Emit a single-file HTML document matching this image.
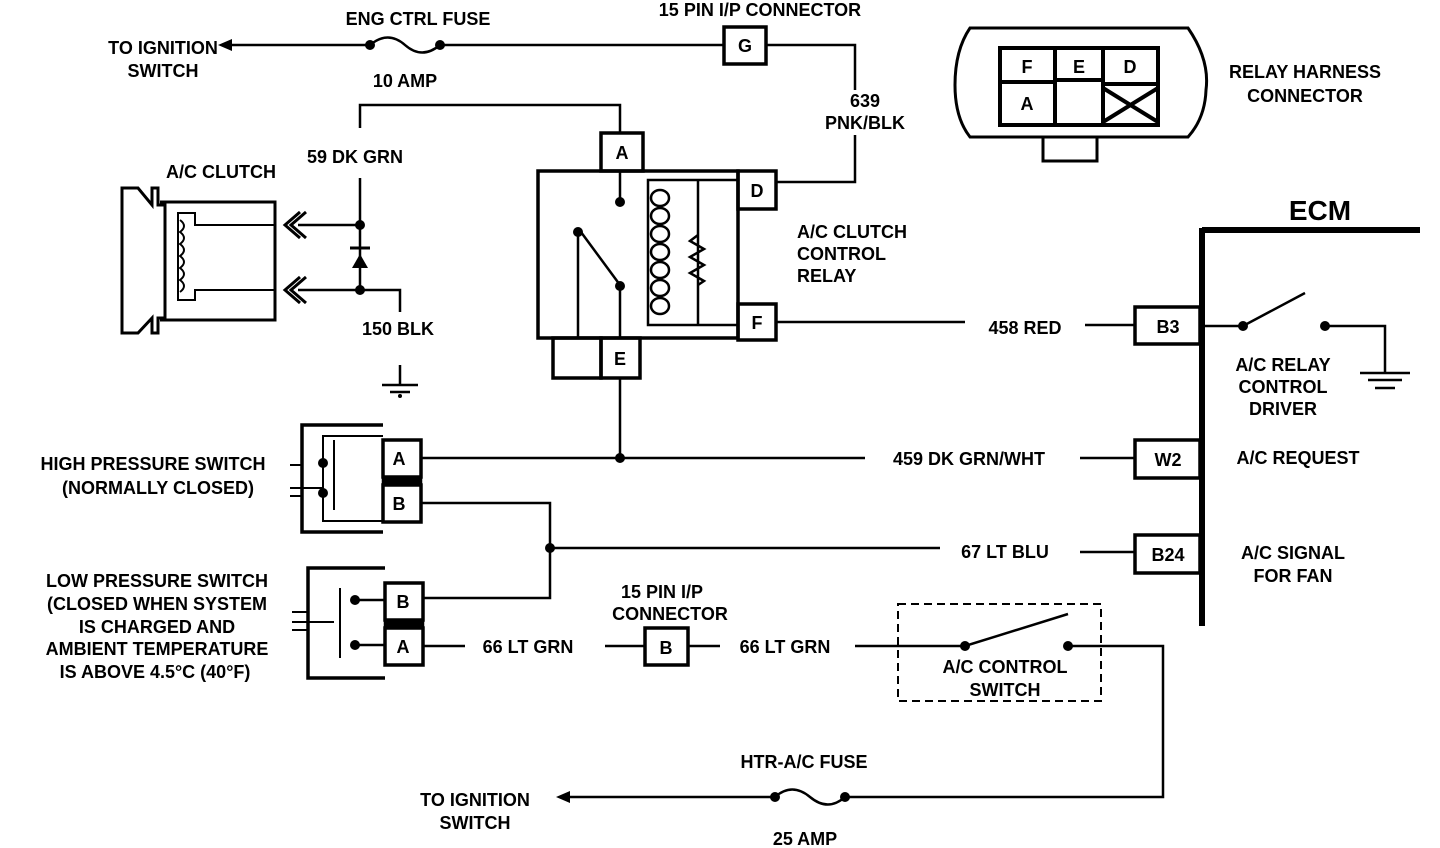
<!DOCTYPE html>
<html><head><style>
html,body{margin:0;padding:0;background:#fff;}
svg{display:block}
text{font-family:"Liberation Sans",sans-serif;font-weight:bold;font-size:18px;fill:#000}
</style></head><body>
<svg width="1440" height="848" viewBox="0 0 1440 848" xmlns="http://www.w3.org/2000/svg">
<g fill="none" stroke="#000" stroke-width="2.5">
<path d="M222 45 H370 M440 45 H724 M766 45 H855 V90 M855 135 V182 H776"/>
<path d="M370 45 Q388 30 405 45 Q422 60 440 45"/>
<rect x="724" y="27" width="42" height="37" stroke-width="3.5"/>
<path d="M620 133 V105 H360 V128 M360 178 V290 M360 290 H400 V312"/>
<path d="M298 225 H360 M298 290 H360"/>
<path d="M350 248 H370" stroke-width="3"/>
<path d="M400 365 V385 M382 385 H418 M390 392 H410" stroke-width="2.5"/>
<path d="M122 188 H138 L152 205 V188 H158 V205 H165 V318 H158 V333 H152 V318 L138 333 H122 Z" stroke-width="3"/>
<path d="M160 202 H275 V320 H160" stroke-width="3"/>
<path d="M276 225 H195 V213 H178 V300 H195 V290 H276" stroke-width="2"/>
<path d="M180 220 q8 6 0 12 q8 6 0 12 q8 6 0 12 q8 6 0 12 q8 6 0 12 q8 6 0 12" stroke-width="2"/>
<path d="M300 212 L285 225 L300 238 M306 212 L291 225 L306 238 M300 277 L285 290 L300 303 M306 277 L291 290 L306 303" stroke-width="3"/>
<rect x="538" y="171" width="200" height="167" stroke-width="3.5"/>
<rect x="601" y="133" width="42" height="38" stroke-width="3.5"/>
<rect x="738" y="171" width="38" height="38" stroke-width="3.5"/>
<rect x="738" y="304" width="38" height="36" stroke-width="3.5"/>
<rect x="553" y="338" width="48" height="40" stroke-width="3.5"/>
<rect x="601" y="338" width="39" height="40" stroke-width="3.5"/>
<path d="M620 171 V200 M578 230 V338 M620 285 V338 M578 228 L620 285"/>
<path d="M738 180 H648 V325 H738 M698 180 V325"/>
<g stroke-width="2.5">
<ellipse cx="660" cy="198" rx="9" ry="8"/>
<ellipse cx="660" cy="216" rx="9" ry="8"/>
<ellipse cx="660" cy="234" rx="9" ry="8"/>
<ellipse cx="660" cy="252" rx="9" ry="8"/>
<ellipse cx="660" cy="270" rx="9" ry="8"/>
<ellipse cx="660" cy="288" rx="9" ry="8"/>
<ellipse cx="660" cy="306" rx="9" ry="8"/>
</g>
<path d="M698 235 l-8 6 l14 8 l-14 8 l14 8 l-14 8 l14 8 l-6 4"/>
<path d="M620 378 V458"/>
<path d="M776 322 H965 M1085 325 H1135"/>
<rect x="1135" y="307" width="65" height="37" stroke-width="3.5"/>
<path d="M1202 228 V626 M1202 230 H1420" stroke-width="6"/>
<path d="M1202 326 H1243 L1305 293 M1325 326 H1385 V372 M1360 373 H1410 M1368 380 H1402 M1375 388 H1395"/>
<path d="M420 458 H865 M1080 458 H1135"/>
<rect x="1135" y="440" width="65" height="38" stroke-width="3.5"/>
<path d="M550 548 H940 M1080 552 H1135"/>
<rect x="1135" y="535" width="65" height="38" stroke-width="3.5"/>
<path d="M383 425 H302 V532 H383" stroke-width="3.5"/>
<path d="M383 436 H323 V521 H383" stroke-width="2"/>
<path d="M334 440 V510" stroke-width="2"/>
<path d="M290 465 H302 M290 488 H322 M290 496 H302" stroke-width="2"/>
<rect x="383" y="440" width="38" height="37" stroke-width="3.5"/>
<rect x="383" y="485" width="38" height="37" stroke-width="3.5"/>
<rect x="383" y="477" width="38" height="8" fill="#000"/>
<path d="M421 503 H550 V598 H422"/>
<path d="M385 568 H308 V678 H385" stroke-width="3.5"/>
<path d="M340 588 V658" stroke-width="2"/>
<path d="M292 612 H308 M292 622 H334 M292 630 H308" stroke-width="2"/>
<path d="M357 600 H385 M357 645 H385"/>
<rect x="385" y="583" width="38" height="37" stroke-width="3.5"/>
<rect x="385" y="628" width="38" height="37" stroke-width="3.5"/>
<rect x="385" y="620" width="38" height="8" fill="#000"/>
<path d="M423 646 H465 M605 646 H645 M688 646 H720 M855 646 H965 L1068 614 M1068 646 H1163 V797 H845 M775 797 H560"/>
<rect x="645" y="628" width="43" height="37" stroke-width="3.5"/>
<path d="M775 797 Q792 782 810 797 Q828 812 845 797"/>
<rect x="898" y="604" width="203" height="97" stroke-width="2" stroke-dasharray="8 5"/>
<path d="M970 28 H1188 Q1210 60 1206 90 Q1205 118 1188 137 H970 Q955 118 955 85 Q955 50 970 28 Z" stroke-width="3"/>
<rect x="1000" y="48" width="158" height="77" stroke-width="4"/>
<path d="M1000 82 H1055 V125 M1055 48 V80 M1055 80 H1103 M1103 48 V125 M1103 84 H1158 M1103 88 L1158 122 M1158 88 L1103 122" stroke-width="4"/>
<rect x="1043" y="137" width="54" height="24" stroke-width="3"/>
</g>
<g fill="#000">
<polygon points="218,45 232,39 232,51"/>
<polygon points="556,797 570,791 570,803"/>
<circle cx="370" cy="45" r="5"/><circle cx="440" cy="45" r="5"/>
<circle cx="775" cy="797" r="5"/><circle cx="845" cy="797" r="5"/>
<circle cx="360" cy="225" r="5"/><circle cx="360" cy="290" r="5"/>
<polygon points="352,268 368,268 360,254"/>
<circle cx="400" cy="396" r="2"/>
<circle cx="620" cy="202" r="5"/><circle cx="578" cy="232" r="5"/><circle cx="620" cy="286" r="5"/>
<circle cx="1243" cy="326" r="5"/><circle cx="1325" cy="326" r="5"/>
<circle cx="620" cy="458" r="5"/><circle cx="550" cy="548" r="5"/>
<circle cx="323" cy="463" r="5"/><circle cx="323" cy="493" r="5"/>
<circle cx="355" cy="600" r="5"/><circle cx="355" cy="645" r="5"/>
<circle cx="965" cy="646" r="5"/><circle cx="1068" cy="646" r="5"/>
</g>
<g>
<text x="163" y="54" text-anchor="middle">TO IGNITION</text>
<text x="163" y="77" text-anchor="middle">SWITCH</text>
<text x="418" y="25" text-anchor="middle">ENG CTRL FUSE</text>
<text x="405" y="87" text-anchor="middle">10 AMP</text>
<text x="760" y="16" text-anchor="middle">15 PIN I/P CONNECTOR</text>
<text x="745" y="52" text-anchor="middle">G</text>
<text x="865" y="107" text-anchor="middle">639</text>
<text x="865" y="129" text-anchor="middle">PNK/BLK</text>
<text x="355" y="163" text-anchor="middle">59 DK GRN</text>
<text x="221" y="178" text-anchor="middle">A/C CLUTCH</text>
<text x="398" y="335" text-anchor="middle">150 BLK</text>
<text x="622" y="159" text-anchor="middle">A</text>
<text x="757" y="197" text-anchor="middle">D</text>
<text x="757" y="329" text-anchor="middle">F</text>
<text x="620" y="365" text-anchor="middle">E</text>
<text x="797" y="238">A/C CLUTCH</text>
<text x="797" y="260">CONTROL</text>
<text x="797" y="282">RELAY</text>
<text x="1025" y="334" text-anchor="middle">458 RED</text>
<text x="1168" y="333" text-anchor="middle">B3</text>
<text x="1320" y="220" text-anchor="middle" style="font-size:28px">ECM</text>
<text x="1283" y="371" text-anchor="middle">A/C RELAY</text>
<text x="1283" y="393" text-anchor="middle">CONTROL</text>
<text x="1283" y="415" text-anchor="middle">DRIVER</text>
<text x="969" y="465" text-anchor="middle">459 DK GRN/WHT</text>
<text x="1168" y="466" text-anchor="middle">W2</text>
<text x="1298" y="464" text-anchor="middle">A/C REQUEST</text>
<text x="1005" y="558" text-anchor="middle">67 LT BLU</text>
<text x="1168" y="561" text-anchor="middle">B24</text>
<text x="1293" y="559" text-anchor="middle">A/C SIGNAL</text>
<text x="1293" y="582" text-anchor="middle">FOR FAN</text>
<text x="153" y="470" text-anchor="middle">HIGH PRESSURE SWITCH</text>
<text x="158" y="494" text-anchor="middle">(NORMALLY CLOSED)</text>
<text x="399" y="465" text-anchor="middle">A</text>
<text x="399" y="510" text-anchor="middle">B</text>
<text x="157" y="587" text-anchor="middle">LOW PRESSURE SWITCH</text>
<text x="157" y="610" text-anchor="middle">(CLOSED WHEN SYSTEM</text>
<text x="157" y="633" text-anchor="middle">IS CHARGED AND</text>
<text x="157" y="655" text-anchor="middle">AMBIENT TEMPERATURE</text>
<text x="155" y="678" text-anchor="middle">IS ABOVE 4.5°C (40°F)</text>
<text x="403" y="608" text-anchor="middle">B</text>
<text x="403" y="653" text-anchor="middle">A</text>
<text x="528" y="653" text-anchor="middle">66 LT GRN</text>
<text x="662" y="598" text-anchor="middle">15 PIN I/P</text>
<text x="670" y="620" text-anchor="middle">CONNECTOR</text>
<text x="666" y="654" text-anchor="middle">B</text>
<text x="785" y="653" text-anchor="middle">66 LT GRN</text>
<text x="1005" y="673" text-anchor="middle">A/C CONTROL</text>
<text x="1005" y="696" text-anchor="middle">SWITCH</text>
<text x="804" y="768" text-anchor="middle">HTR-A/C FUSE</text>
<text x="805" y="845" text-anchor="middle">25 AMP</text>
<text x="475" y="806" text-anchor="middle">TO IGNITION</text>
<text x="475" y="829" text-anchor="middle">SWITCH</text>
<text x="1027" y="73" text-anchor="middle">F</text>
<text x="1079" y="73" text-anchor="middle">E</text>
<text x="1130" y="73" text-anchor="middle">D</text>
<text x="1027" y="110" text-anchor="middle">A</text>
<text x="1305" y="78" text-anchor="middle">RELAY HARNESS</text>
<text x="1305" y="102" text-anchor="middle">CONNECTOR</text>
</g>
</svg>
</body></html>
